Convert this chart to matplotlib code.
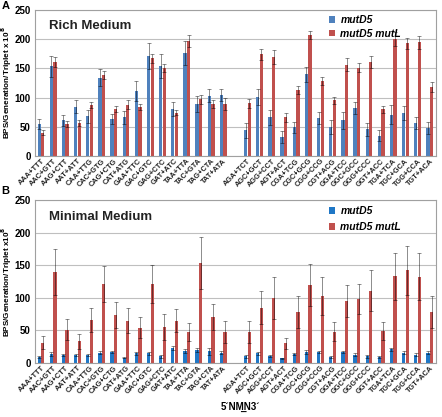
import matplotlib.pyplot as plt
import numpy as np

plt.rcParams['font.family'] = ['Liberation Sans', 'DejaVu Sans']

############################## data
triplets = ["AAA+TTT", "AAC+GTT", "AAG+CTT", "AAT+ATT", "CAA+TTG", "CAC+GTG", "CAG+CTG", "CAT+ATG",
            "GAA+TTC", "GAC+GTC", "GAG+CTC", "GAT+ATC", "TAA+TTA", "TAC+GTA", "TAG+CTA", "TAT+ATA",
            "",
            "AGA+TCT", "AGC+GCT", "AGG+CCT", "AGT+ACT", "CGA+TCG", "CGC+GCG", "CGG+CCG", "CGT+ACG",
            "GGA+TCC", "GGC+GCC", "GGG+CCC", "GGT+ACC", "TGA+TCA", "TGC+GCA", "TGG+CCA", "TGT+ACA"]

# rich medium
rich_mutD5 = [55, 154, 61, 84, 68, 134, 63, 66, 111, 171, 154, 80, 176, 89, 103, 104, np.nan,
              44, 101, 66, 32, 49, 140, 65, 49, 61, 82, 46, 35, 71, 74, 56, 48]
rich_mutD5_err = [9, 18, 9, 11, 11, 15, 9, 11, 17, 22, 20, 12, 21, 13, 11, 10, np.nan,
                  13, 13, 13, 10, 10, 13, 10, 12, 14, 10, 11, 9, 16, 12, 10, 11]
rich_mutL = [40, 161, 55, 57, 88, 139, 81, 88, 84, 167, 150, 74, 197, 97, 89, 89, np.nan,
             90, 174, 169, 66, 113, 207, 129, 95, 156, 151, 161, 80, 200, 193, 195, 118]
rich_mutL_err = [4, 8, 5, 5, 5, 7, 5, 7, 5, 8, 7, 4, 10, 8, 7, 11, np.nan,
                 8, 9, 12, 7, 7, 7, 7, 6, 11, 8, 11, 6, 12, 9, 11, 8]

# minimal medium
min_mutD5 = [9, 14, 12, 12, 12, 16, 17, 8, 15, 15, 10, 23, 18, 20, 18, 16, np.nan,
             10, 15, 11, 7, 14, 17, 17, 9, 17, 13, 10, 9, 21, 16, 13, 16]
min_mutD5_err = [2, 3, 2, 2, 2, 2, 2, 1, 2, 2, 2, 3, 3, 3, 5, 2, np.nan,
                 2, 2, 2, 1, 2, 3, 2, 2, 2, 2, 2, 1, 2, 2, 2, 2]
min_mutL = [31, 140, 51, 33, 66, 121, 74, 65, 54, 121, 55, 65, 47, 153, 70, 47, np.nan,
            47, 85, 100, 30, 78, 120, 103, 48, 95, 98, 111, 49, 133, 142, 132, 78]
min_mutL_err = [10, 35, 16, 12, 19, 27, 20, 19, 16, 29, 20, 18, 14, 40, 20, 17, np.nan,
                17, 25, 32, 9, 25, 32, 29, 15, 24, 23, 31, 14, 36, 38, 36, 25]

################################ figure
fig = plt.figure(figsize=(4.42, 4.17), dpi=100)
axA = fig.add_axes([0.079, 0.626, 0.907, 0.350])
axB = fig.add_axes([0.079, 0.1295, 0.907, 0.391])

x = np.arange(len(triplets))
w = 0.27
ecol = (0, 0, 0, 0.45)


def panel(ax, blue, blue_err, red, red_err, bcol, rcol, title, ylab, leg_y, leg_sp):
    ax.bar(x - 0.15, blue, w, color=bcol, label="mutD5", zorder=2)
    ax.bar(x + 0.15, red, w, color=rcol, label="mutD5 mutL", zorder=2)
    ax.errorbar(x - 0.15, blue, yerr=blue_err, fmt="none", ecolor=ecol, elinewidth=0.7,
                capsize=1.5, capthick=0.7, zorder=3)
    ax.errorbar(x + 0.15, red, yerr=red_err, fmt="none", ecolor=ecol, elinewidth=0.7,
                capsize=1.5, capthick=0.7, zorder=3)
    ax.set_xlim(-0.5, len(triplets) - 0.5)
    ax.set_ylim(0, 250)
    ax.set_yticks([0, 50, 100, 150, 200, 250])
    ax.yaxis.grid(True, color="#bfbfbf", lw=0.8, zorder=0)
    ax.set_axisbelow(True)
    for s in ax.spines.values():
        s.set_color("#a0a0a0")
        s.set_linewidth(0.8)
    ax.tick_params(axis="y", length=0, labelsize=7, pad=3)
    ax.tick_params(axis="x", length=0, pad=1)
    for t in ax.get_yticklabels():
        t.set_fontweight("bold")
    ax.set_xticks(x)
    ax.set_xticklabels(triplets, rotation=45, ha="right", rotation_mode="anchor",
                       fontsize=5.3, fontweight="bold", color="#222222")
    ax.set_ylabel(ylab, fontsize=5.9, fontweight="bold")
    ax.yaxis.set_label_coords(-0.052, 0.5)
    ax.text(0.035, 0.93, title, transform=ax.transAxes, fontsize=9.5, fontweight="bold",
            va="top", color="#222222")
    ax.legend(loc="upper left", bbox_to_anchor=(0.71, leg_y), frameon=False,
              handlelength=0.6, handleheight=0.6, handletextpad=0.5, labelspacing=leg_sp,
              prop={"style": "italic", "weight": "bold", "size": 7.5})


panel(axA, rich_mutD5, rich_mutD5_err, rich_mutL, rich_mutL_err, "#4f81bd", "#c0504d",
      "Rich Medium", "BPS/Generation/Triplet x 10$^\\mathbf{8}$", 1.03, 0.35)
panel(axB, min_mutD5, min_mutD5_err, min_mutL, min_mutL_err, "#1f77c6", "#c0504d",
      "Minimal Medium", "BPS/Generation/Triplet x10$^\\mathbf{8}$", 1.02, 0.6)

fig.text(0.003, 0.998, "A", fontsize=8, fontweight="bold", va="top")
fig.text(0.003, 0.553, "B", fontsize=8, fontweight="bold", va="top")
fig.text(0.545, 0.018, "5\u00b4NM\u0332N3\u00b4", fontsize=7, fontweight="bold", ha="center")

plt.savefig("out.png", dpi=100)
